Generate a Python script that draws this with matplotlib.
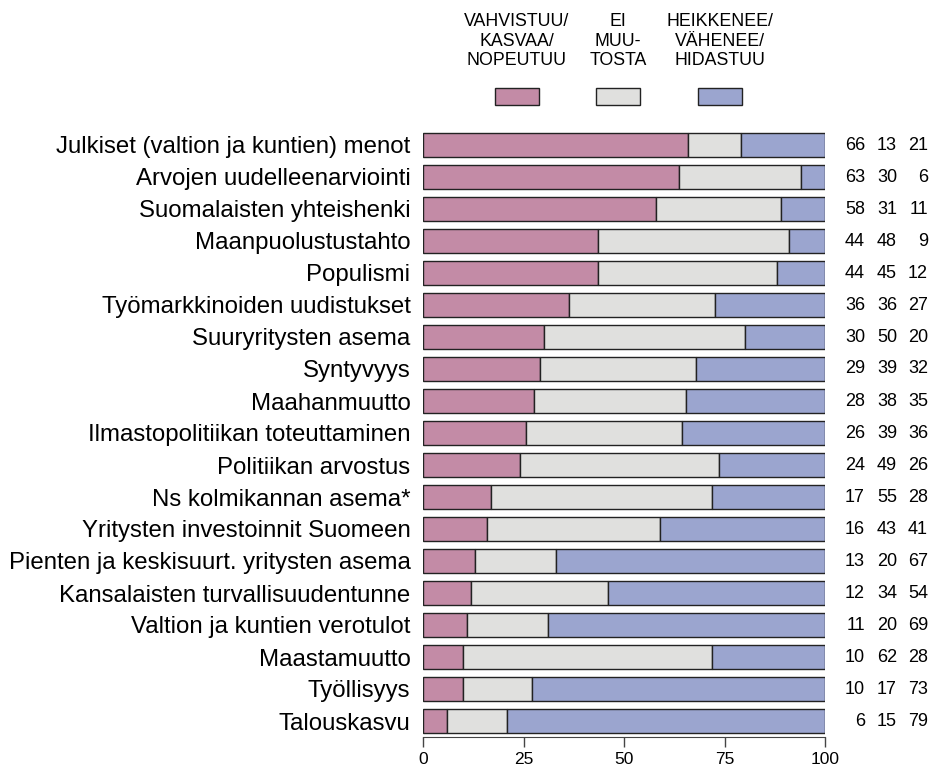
import numpy
from matplotlib import pyplot as plt
from matplotlib.patches import Rectangle

plt.rcParams['font.family'] = ['Liberation Sans', 'DejaVu Sans']

labels = ['Julkiset (valtion ja kuntien) menot', 'Arvojen uudelleenarviointi',
          'Suomalaisten yhteishenki', 'Maanpuolustustahto', 'Populismi',
          'Työmarkkinoiden uudistukset', 'Suuryritysten asema', 'Syntyvyys',
          'Maahanmuutto', 'Ilmastopolitiikan toteuttaminen', 'Politiikan arvostus',
          'Ns kolmikannan asema*', 'Yritysten investoinnit Suomeen',
          'Pienten ja keskisuurt. yritysten asema', 'Kansalaisten turvallisuudentunne',
          'Valtion ja kuntien verotulot', 'Maastamuutto', 'Työllisyys', 'Talouskasvu']
vahvistuu = [66, 63, 58, 44, 44, 36, 30, 29, 28, 26, 24, 17, 16, 13, 12, 11, 10, 10, 6]
ei_muutosta = [13, 30, 31, 48, 45, 36, 50, 39, 38, 39, 49, 55, 43, 20, 34, 20, 62, 17, 15]
heikkenee = [21, 6, 11, 9, 12, 27, 20, 32, 35, 36, 26, 28, 41, 67, 54, 69, 28, 73, 79]
legend_labels = ['VAHVISTUU/\nKASVAA/\nNOPEUTUU', 'EI\nMUU-\nTOSTA',
                 'HEIKKENEE/\nVÄHENEE/\nHIDASTUU']
colors = ['#c38ba6', '#e0e0de', '#9ba5cf']
ticks = [0, 25, 50, 75, 100]

W, H = 935, 769
fig = plt.figure(figsize=(W/100, H/100), dpi=100)
ax = fig.add_axes([423/W, 1-737/H, 402/W, (737-125)/H])

vals = numpy.array([vahvistuu, ei_muutosta, heikkenee], dtype=float)
pct = vals/vals.sum(axis=0)*100
y = numpy.arange(len(labels))
left = numpy.zeros(len(labels))
for k in range(3):
    ax.barh(y, pct[k], left=left, height=0.76, color=colors[k],
            edgecolor='#222222', linewidth=1.0)
    left += pct[k]

ax.set_ylim((737-145)/32, -0.625)
ax.set_xlim(0, 100)
ax.set_yticks(y)
ax.set_yticklabels(labels, fontsize=17.3)
ax.tick_params(axis='y', length=0, pad=9)
ax.set_xticks(ticks)
ax.set_xticklabels([str(t) for t in ticks], fontsize=12.5)
ax.tick_params(axis='x', length=7, width=1, color='#444444', pad=4)
for s in ['top', 'right', 'left']:
    ax.spines[s].set_visible(False)
ax.spines['bottom'].set_bounds(0, 100)
ax.spines['bottom'].set_color('#444444')

# numbers on the right
for i in range(len(labels)):
    for k, xr in enumerate([865, 897, 928]):
        fig.text(xr/W, 1-(145+32*i)/H, str([vahvistuu, ei_muutosta, heikkenee][k][i]),
                 ha='right', va='center', fontsize=13)

# legend on top
for k, xc in enumerate([517, 618, 720]):
    fig.text(xc/W, 1-13/H, legend_labels[k], ha='center', va='top',
             fontsize=12.8, linespacing=1.2)
    fig.add_artist(Rectangle(((xc-22)/W, 1-105/H), 44/W, 17/H,
                             transform=fig.transFigure, facecolor=colors[k],
                             edgecolor='#222222', linewidth=1.0))

fig.savefig('out.png', dpi=100)
